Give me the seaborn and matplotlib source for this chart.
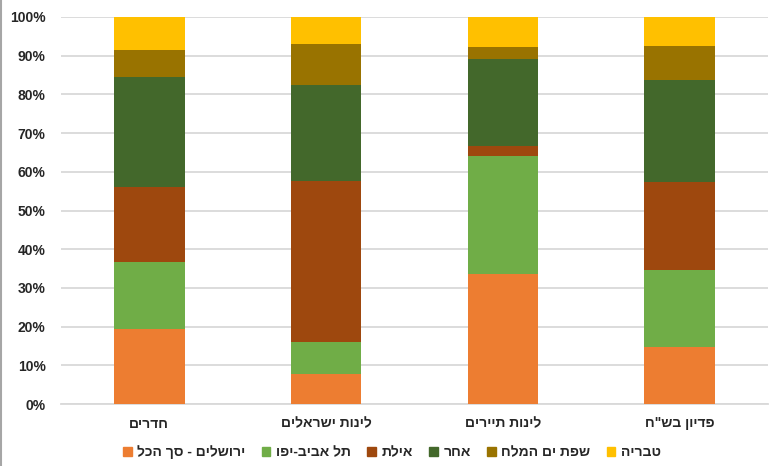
import pandas as pd
import matplotlib
matplotlib.use('Agg')
import matplotlib.pyplot as plt
import matplotlib.patches as mpatches
from matplotlib.lines import Line2D
from matplotlib.ticker import PercentFormatter
import seaborn as sns
import numpy as np

# Kategorier (x-axeln) och serier, i logisk (hebreisk) ordning
categories = ['חדרים', 'לינות ישראלים', 'לינות תיירים', 'פדיון בש"ח']
series = ['ירושלים - סך הכל', 'תל אביב-יפו', 'אילת', 'אחר', 'שפת ים המלח', 'טבריה']

# Andelar i procent per serie (läst från bilden)
jerusalem = [19.4, 7.8, 33.6, 14.7]
tel_aviv = [17.4, 8.2, 30.5, 20.0]
eilat = [19.2, 41.5, 2.6, 22.6]
other = [28.5, 24.8, 22.4, 26.4]
dead_sea = [7.1, 10.8, 3.1, 8.9]
tiberias = [8.4, 6.9, 7.8, 7.4]

colors = ['#ED7D31', '#70AD47', '#9E480E', '#43682B', '#997300', '#FFC000']
text_color = '#262626'


def rtl(s):
    # matplotlib saknar bidi-stöd, så hebreisk text vänds till visuell ordning
    return s[::-1]


sns.set_theme(style='white')
plt.rcParams['font.family'] = ['Liberation Sans', 'DejaVu Sans']

values = np.array([jerusalem, tel_aviv, eilat, other, dead_sea, tiberias])
values = values / values.sum(axis=0) * 100
cum = values.cumsum(axis=0)

fig = plt.figure(figsize=(7.72, 4.66), dpi=100)
ax = fig.add_axes([61 / 772, 1 - 404 / 466, (768 - 61) / 772, (404 - 17) / 466])

labels = [rtl(c) for c in categories]

# Staplade staplar: rita kumulativa summor uppifrån och ned
for i in range(len(series) - 1, -1, -1):
    df = pd.DataFrame({'cat': labels, 'val': cum[i]})
    sns.barplot(data=df, x='cat', y='val', color=colors[i], width=0.4,
                saturation=1, ax=ax, zorder=3, linewidth=0)

ax.set_ylim(0, 100)
ax.set_yticks(np.arange(0, 101, 10))
ax.yaxis.set_major_formatter(PercentFormatter(decimals=0))
ax.grid(axis='y', color='#D9D9D9', linewidth=1.3, zorder=0)
ax.set_axisbelow(True)
for side in ['top', 'right', 'left']:
    ax.spines[side].set_visible(False)
ax.spines['bottom'].set_color('#D9D9D9')
ax.spines['bottom'].set_linewidth(1.3)
ax.set_xlabel('')
ax.set_ylabel('')
ax.tick_params(axis='y', length=0, pad=11, labelsize=10, labelcolor=text_color)
ax.tick_params(axis='x', length=0, pad=9, labelsize=10, labelcolor=text_color)
for t in ax.get_xticklabels() + ax.get_yticklabels():
    t.set_fontweight('bold')

handles = [mpatches.Patch(color=colors[i], label=rtl(series[i])) for i in range(len(series))]
leg = fig.legend(handles=handles, loc='center', bbox_to_anchor=(392 / 772, 1 - 452 / 466),
                 ncol=6, frameon=False, fontsize=10, handlelength=0.6, handleheight=0.6,
                 handletextpad=0.4, columnspacing=1.2)
for t in leg.get_texts():
    t.set_color(text_color)
    t.set_fontweight('bold')

# Grå ram till vänster, som i originalet
fig.add_artist(Line2D([0.001, 0.001], [0, 1], color='#A6A6A6', linewidth=1.5))

plt.savefig('out.png', dpi=100)
